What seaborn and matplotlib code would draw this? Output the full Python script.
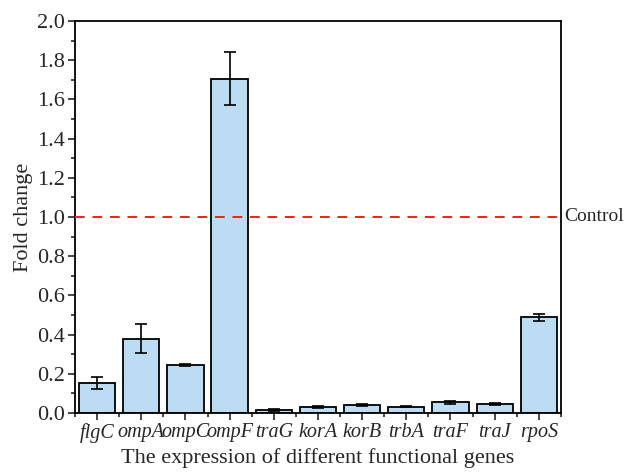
import numpy as np
import matplotlib
matplotlib.use("Agg")
import matplotlib.pyplot as plt
from matplotlib.ticker import MultipleLocator, FixedLocator
import pandas as pd
import seaborn as sns

# data
genes = ["flgC", "ompA", "ompC", "ompF", "traG", "korA", "korB", "trbA", "traF", "traJ", "rpoS"]
fold_change = [0.152, 0.379, 0.245, 1.706, 0.015, 0.030, 0.040, 0.032, 0.055, 0.045, 0.488]
err = [0.032, 0.075, 0.007, 0.135, 0.004, 0.007, 0.004, 0.003, 0.008, 0.004, 0.017]
control_level = 1.0

df = pd.DataFrame({"gene": genes, "fc": fold_change, "err": err})

sns.set_style("ticks")
plt.rcParams["font.family"] = ["Liberation Serif", "DejaVu Serif"]

fig = plt.figure(figsize=(6.27, 4.74), dpi=100)
ax = fig.add_axes([0.1196, 0.1287, 0.775, 0.827])

sns.barplot(data=df, x="gene", y="fc", color="#bcdcf4", edgecolor="black",
            linewidth=1.3, width=0.82, saturation=1, errorbar=None, ax=ax)
ax.errorbar(np.arange(len(genes)), df["fc"], yerr=df["err"], fmt="none",
            ecolor="black", elinewidth=1.2, capsize=4.5, capthick=1.2)

# control line (drawn over the bars like in the original)
ax.axhline(control_level, color="#e8231f", linestyle=(0, (5, 4)), linewidth=1.4, zorder=3)
ax.text(1.006, control_level, "Control", transform=ax.get_yaxis_transform(),
        va="center", ha="left", fontsize=14)

ax.set_xlim(-0.5, len(genes) - 0.5)
ax.set_ylim(0, 2.0)
ax.yaxis.set_minor_locator(MultipleLocator(0.1))
ax.xaxis.set_minor_locator(FixedLocator(np.arange(-0.5, len(genes), 1.0)))
ax.set_yticks(np.arange(0, 2.01, 0.2))
ax.set_yticklabels([f"{v:.1f}" for v in np.arange(0, 2.01, 0.2)], fontsize=16)
ax.set_xticks(np.arange(len(genes)))
ax.set_xticklabels(genes, fontsize=14.5, style="italic")
ax.tick_params(axis="both", which="major", direction="out", length=5, width=1.2, pad=2)
ax.tick_params(axis="both", which="minor", direction="out", length=3, width=1.2)

for s in ax.spines.values():
    s.set_linewidth(1.3)
    s.set_color("black")

ax.set_xlabel("The expression of different functional genes", fontsize=16, labelpad=4)
ax.set_ylabel("Fold change", fontsize=16, labelpad=3)

fig.savefig("out.png", dpi=100)
